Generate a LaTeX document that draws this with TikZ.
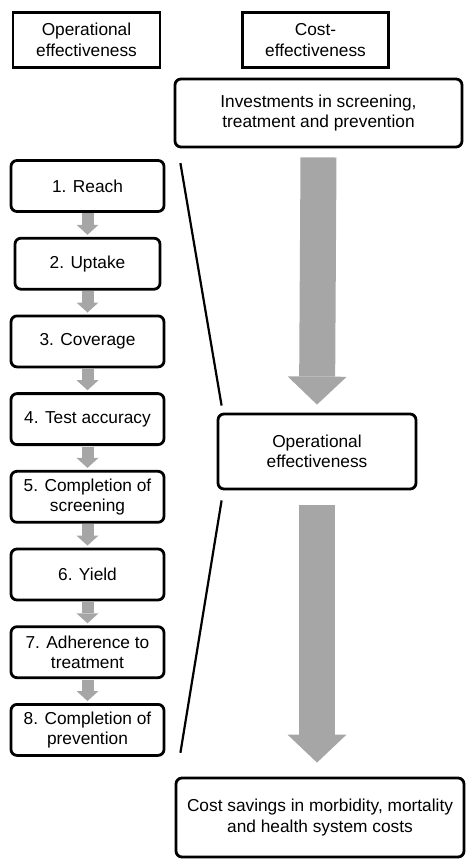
\documentclass[tikz,border=0pt]{standalone}
\usepackage{fontspec}
\setmainfont{Liberation Sans}
\usepackage{tikz}
\usetikzlibrary{calc,arrows.meta,positioning}
\definecolor{arrowgrey}{HTML}{A6A6A6}

\begin{document}
\begin{tikzpicture}[x=1pt,y=-1pt,node distance=23.9pt and 5mm]

\tikzset{headbox/.style={font=\fontsize{17.3}{20.5}\selectfont,draw,line width=2.8pt,align=center,inner sep=0pt,minimum width=147pt,minimum height=55pt},
stepbox/.style={font=\fontsize{17.3}{20.5}\selectfont,draw,line width=2.8pt,rounded corners=6pt,align=center,inner sep=0pt,minimum width=153pt,minimum height=51pt},
bigbox/.style={stepbox,minimum width=287pt,minimum height=68pt},
smallarrow/.style={draw=arrowgrey,line width=12pt,-{Triangle[width=22pt,length=10pt,line width=0pt]},shorten <=0.5pt,shorten >=2pt},
bigarrow/.style={draw=arrowgrey,line width=36pt,-{Triangle[width=59pt,length=28pt,line width=0pt]}},
slantline/.style={line width=2.2pt}}

\useasboundingbox (0,0) rectangle (467,862);

% Headers
\node (hOp) [headbox] at (86.5,40) {Operational\\effectiveness};
\node (hCost) [headbox,minimum width=146pt] at (315.5,40) {Cost-\\effectiveness};

% Cost-effectiveness chain
\node (invest) [bigbox] at (318.5,113) {Investments in screening,\\treatment and prevention};
\node (opeff) [bigbox,minimum width=198pt,minimum height=75pt] at (317,451.5) {Operational\\effectiveness};
\node (savings) [bigbox,minimum width=288pt,minimum height=79pt] at (320,817.5) {Cost savings in morbidity, mortality\\and health system costs};

% Steps of operational effectiveness
\node (s1) [stepbox] at (87.5,186) {1. Reach};
\node (s2) [below=of s1,stepbox,minimum width=145pt] {2. Uptake};
\node (s3) [below=of s2,stepbox] {3. Coverage};
\node (s4) [below=of s3,stepbox] {4. Test accuracy};
\node (s5) [below=of s4,stepbox] {5. Completion of\\screening};
\node (s6) [below=of s5,stepbox] {6. Yield};
\node (s7) [below=of s6,stepbox] {7. Adherence to\\treatment};
\node (s8) [below=of s7,stepbox] {8. Completion of\\prevention};

% Arrows
\foreach \a/\b in {s1/s2,s2/s3,s3/s4,s4/s5,s5/s6,s6/s7,s7/s8} \draw[smallarrow] (\a.south) -- (\b.north);
\draw[bigarrow] ($(invest.south)+(0,9)$) -- ($(opeff.north)+(0,-8)$);
\draw[bigarrow] ($(opeff.south)+(0,15)$) -- ($(opeff.south |- savings.north)+(0,-14)$);

% Edges
\draw[slantline] ($(s1.north east)+(15,4)$) -- ($(opeff.north west)+(5,-7)$);
\draw[slantline] ($(opeff.south west)+(5,10)$) -- ($(s8.south east)+(15,-4)$);

\end{tikzpicture}
\end{document}
